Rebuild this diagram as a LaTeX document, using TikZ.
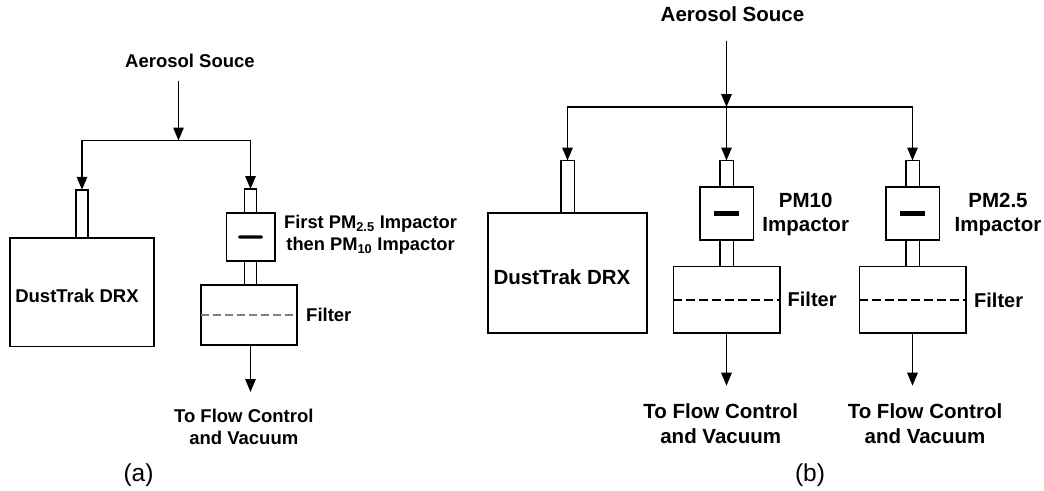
\documentclass[tikz,border=0pt]{standalone}
\usepackage{fontspec}
\setmainfont{Liberation Sans}
\usetikzlibrary{arrows.meta}
\tikzset{
  linest/.style={line width=1.5pt,line cap=butt},
  flow/.style={linest,-{Triangle[length=13pt,width=10.5pt]}},
  boxn/.style={draw,line width=1.5pt,fill=white,inner sep=0pt,outer sep=0pt,minimum width=#1},
  boxh/.style={minimum height=#1},
  barn/.style={fill=black,inner sep=0pt,outer sep=0pt},
  ta/.style={font=\fontsize{18.5pt}{22pt}\selectfont\bfseries,align=center,inner sep=0pt},
  tb/.style={font=\fontsize{20.5pt}{24.5pt}\selectfont\bfseries,align=center,inner sep=0pt},
  filtb/.style={font=\fontsize{20pt}{24pt}\selectfont\bfseries,inner sep=0pt},
  captext/.style={font=\fontsize{24.5pt}{28pt}\selectfont,inner sep=0pt},
  dasha/.style={line width=1.2pt,draw=black!50,dash pattern=on 8pt off 4pt},
  dashb/.style={line width=1.5pt,dash pattern=on 9pt off 4pt},
}
\begin{document}
\begin{tikzpicture}[x=1pt,y=-1pt]
\useasboundingbox (0,0) rectangle (1044,490);
% --- panel (a)
\node[ta] (srcA) at (190,60.5) {Aerosol Souce};
\coordinate (startA) at (178.5,80.5);
\coordinate (juncA) at (178.5,140.5);
\node[boxn=144,boxh=108.5] (dustA) at (82,292) {};
\node[boxn=12,boxh=48,anchor=south] (tubeA) at (dustA.north) {};
\node[ta] (dustAt) at (77,295.5) {DustTrak DRX};
\node[boxn=48.5,boxh=48] (impA) at (250.5,237) {};
\node[barn,minimum width=25pt,minimum height=3.2pt,rounded corners=1.5pt] (barA) at (impA.center) {};
\node[boxn=12,boxh=24,anchor=south] (tubeA1) at (impA.north) {};
\node[boxn=96,boxh=60,anchor=north] (filtA) at (249.2,285) {};
\node[boxn=12,boxh=24,anchor=north] (tubeA2) at (impA.south) {};
\draw[dasha] (filtA.west) -- (filtA.east);
\node[ta,anchor=west] (filtAt) at (306,315) {Filter};
\node[ta,font=\fontsize{18.3pt}{21.7pt}\selectfont\bfseries] (impAt) at (370.6,234.5) {First PM\textsubscript{2.5} Impactor\\then PM\textsubscript{10} Impactor};
\coordinate (endA) at (250.5,392);
\node[ta] (toA) at (243.8,426.5) {To Flow Control\\and Vacuum};
\node[captext] (capA) at (138.5,475) {(a)};
\draw[flow] (startA) -- (juncA);
\draw[flow] (juncA) -| (tubeA.north);
\draw[flow] (juncA) -| (tubeA1.north);
\draw[flow] (filtA.south -| tubeA2) -- (endA);
% --- panel (b)
\node[tb] (srcB) at (732.5,14) {Aerosol Souce};
\coordinate (startB) at (726.5,41);
\coordinate (juncB) at (726.5,107);
\node[boxn=159,boxh=120] (dustB) at (567.5,273) {};
\node[boxn=13.5,boxh=52.5,anchor=south] (tubeB) at (dustB.north) {};
\node[tb] (dustBt) at (562,277.5) {DustTrak DRX};
\node[boxn=53.5,boxh=53] (impB) at (726.5,213.5) {};
\node[barn,minimum width=24.5pt,minimum height=4.5pt] (barB) at (impB.center) {};
\node[boxn=13.5,boxh=26.5,anchor=south] (tubeB1) at (impB.north) {};
\node[boxn=106.5,boxh=66.5,anchor=north] (filtB) at (726.5,266.5) {};
\node[boxn=13.5,boxh=26.5,anchor=north] (tubeB2) at (impB.south) {};
\draw[dashb] (filtB.west) -- (filtB.east);
\node[filtb,anchor=west] (filtBt) at (787.5,299.5) {Filter};
\node[tb] (impBt) at (805.7,214.5) {PM10\\Impactor};
\coordinate (endB) at (726.5,385.7);
\node[tb] (toB) at (720.7,423.5) {To Flow Control\\and Vacuum};
\node[boxn=53.5,boxh=53] (impC) at (912.5,213.5) {};
\node[barn,minimum width=24.5pt,minimum height=4.5pt] (barC) at (impC.center) {};
\node[boxn=13.5,boxh=26.5,anchor=south] (tubeC1) at (impC.north) {};
\node[boxn=106.5,boxh=66.5,anchor=north] (filtC) at (912.5,266.5) {};
\node[boxn=13.5,boxh=26.5,anchor=north] (tubeC2) at (impC.south) {};
\draw[dashb] (filtC.west) -- (filtC.east);
\node[filtb,anchor=west] (filtCt) at (974,300) {Filter};
\node[tb] (impCt) at (998,214.5) {PM2.5\\Impactor};
\coordinate (endC) at (912.5,385.7);
\node[tb] (toC) at (925,423.5) {To Flow Control\\and Vacuum};
\node[captext] (capB) at (810,475) {(b)};
\draw[flow] (startB) -- (juncB);
\draw[flow] (juncB) -- (tubeB1.north);
\draw[flow] (juncB) -| (tubeB.north);
\draw[flow] (juncB) -| (tubeC1.north);
\draw[flow] (filtB.south) -- (endB);
\draw[flow] (filtC.south) -- (endC);
\end{tikzpicture}
\end{document}
